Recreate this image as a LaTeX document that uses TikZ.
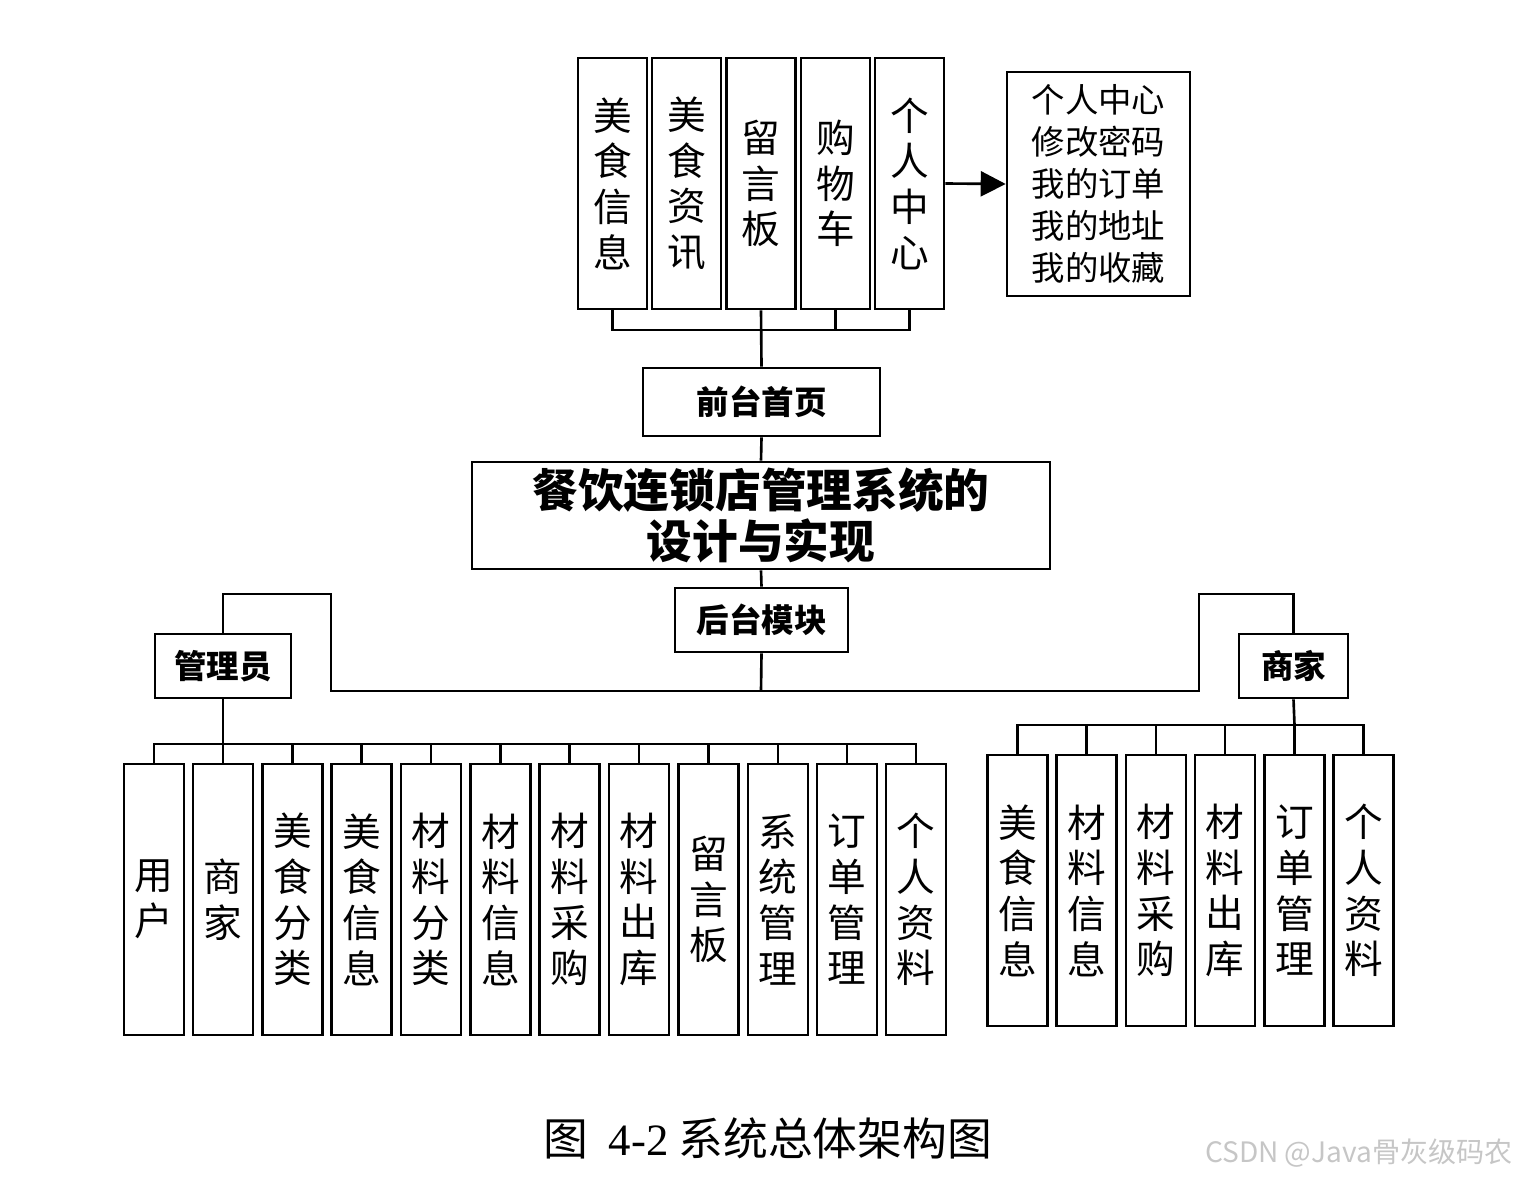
\documentclass[tikz,border=0pt]{standalone}
\usepackage{fontspec}
\setmainfont{Noto Sans CJK SC}
\newfontfamily\latinserif{Liberation Serif}
\usetikzlibrary{arrows.meta}
\begin{document}
\begin{tikzpicture}[x=0.02cm,y=-0.02cm,line width=1.5pt,
  box/.style={draw,inner sep=0pt,align=center},
  col/.style={box,minimum width=1.2cm,minimum height=5.42cm,
    font=\fontsize{22}{26}\selectfont},
  topcol/.style={col,minimum width=1.38cm,minimum height=5.02cm},
  head/.style={box,font=\fontsize{18.5}{22}\selectfont\bfseries}]
  \useasboundingbox (0,0) rectangle (1524,1180);
  % front end
  \foreach \x/\lab [count=\i] in {612.5/{美\\食\\信\\息}, 686.5/{美\\食\\资\\讯},
                                  761/{留\\言\\板}, 835.5/{购\\物\\车},
                                  909.5/{个\\人\\中\\心}}
    \node[topcol] (t\i) at (\x,183.5) {\lab};
  \node[box,minimum width=3.66cm,minimum height=4.48cm,
        font=\fontsize{19}{24}\selectfont] (center) at (1098.5,184)
    {个人中心\\修改密码\\我的订单\\我的地址\\我的收藏};
  \draw[-{Triangle[length=0.5cm,width=0.5cm]}] (t5.east) -- (center.west);
  \node[head,minimum width=4.74cm,minimum height=1.36cm] (front) at (761.5,402) {前台首页};
  \coordinate (tbus) at (761,330);
  \draw (t1.south) |- (tbus) -| (t5.south);
  \draw (t3.south) -- (front.north);
  \draw (t4.south) -- (t4.south |- tbus);
  % system
  \node[box,minimum width=11.56cm,minimum height=2.14cm,
        font=\fontsize{26}{29.5}\selectfont\bfseries] (sys) at (761,515.5)
    {餐饮连锁店管理系统的\\设计与实现};
  \draw (front.south) -- (sys.north);
  % back end
  \node[head,minimum width=3.46cm,minimum height=1.28cm] (back) at (761.5,620) {后台模块};
  \draw (sys.south) -- (back.north);
  \node[head,minimum width=2.72cm,minimum height=1.28cm] (admin) at (223,666) {管理员};
  \node[head,minimum width=2.18cm,minimum height=1.28cm] (merch) at (1293.5,666) {商家};
  \coordinate (bbus) at (761,691);
  \coordinate (lbend) at (331,594);
  \coordinate (rbend) at (1199,594);
  \draw (back.south) -- (bbus);
  \draw (admin.north) |- (lbend) |- (bbus) -| (rbend) -| (merch.north);
  % admin modules
  \foreach \x/\lab [count=\i] in {154/{用\\户}, 223/{商\\家}, 292.5/{美\\食\\分\\类},
                                  361.5/{美\\食\\信\\息}, 431/{材\\料\\分\\类},
                                  500.5/{材\\料\\信\\息}, 569.5/{材\\料\\采\\购},
                                  639/{材\\料\\出\\库}, 708.5/{留\\言\\板},
                                  778/{系\\统\\管\\理}, 847/{订\\单\\管\\理},
                                  916/{个\\人\\资\\料}}
    \node[col] (a\i) at (\x,899.5) {\lab};
  \coordinate (abus) at (223,744);
  \draw (admin.south) -- (abus);
  \draw (a1.north) |- (abus) -| (a12.north);
  \foreach \i in {2,...,11}
    \draw (a\i.north) -- (a\i.north |- abus);
  % merchant modules
  \foreach \x/\lab [count=\i] in {1017.5/{美\\食\\信\\息}, 1086.5/{材\\料\\信\\息},
                                  1156/{材\\料\\采\\购}, 1225/{材\\料\\出\\库},
                                  1294.5/{订\\单\\管\\理}, 1363.5/{个\\人\\资\\料}}
    \node[col] (m\i) at (\x,890.5) {\lab};
  \coordinate (mbus) at (1294.5,725);
  \draw (merch.south) -- (mbus);
  \draw (m1.north) |- (mbus) -| (m6.north);
  \foreach \i in {2,...,5}
    \draw (m\i.north) -- (m\i.north |- mbus);
  % caption
  \node[font=\fontsize{25.5}{30}\selectfont] (caption) at (768,1138)
    {图\ \ {\latinserif 4-2} 系统总体架构图};
  \node[font=\fontsize{16}{18}\selectfont,text=gray!45,anchor=east] (mark) at (1520,1153)
    {CSDN @Java骨灰级码农};
\end{tikzpicture}
\end{document}
